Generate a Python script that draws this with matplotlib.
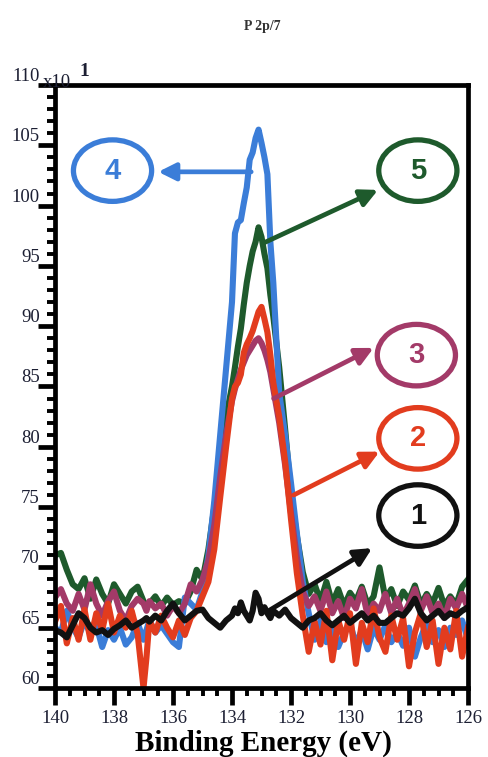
import numpy as np
import matplotlib
matplotlib.use('Agg')
import matplotlib.pyplot as plt
from matplotlib.patches import Ellipse
from matplotlib.ticker import MultipleLocator

# binding energy grid (eV) shared by all five spectra
energy = [140.0, 139.8, 139.6, 139.4, 139.2, 139.0, 138.8, 138.6, 138.4, 138.2,
          138.0, 137.8, 137.6, 137.4, 137.2, 137.0, 136.9, 136.8, 136.6, 136.4,
          136.2, 136.0, 135.8, 135.6, 135.4, 135.2, 135.0, 134.8, 134.6, 134.4,
          134.2, 134.0, 133.9, 133.8, 133.7, 133.6, 133.5, 133.4, 133.3, 133.2,
          133.1, 133.0, 132.9, 132.8, 132.7, 132.6, 132.4, 132.2, 132.0, 131.8,
          131.6, 131.4, 131.2, 131.0, 130.8, 130.6, 130.4, 130.2, 130.0, 129.8,
          129.6, 129.4, 129.2, 129.0, 128.8, 128.6, 128.4, 128.2, 128.0, 127.8,
          127.6, 127.4, 127.2, 127.0, 126.8, 126.6, 126.4, 126.2, 126.0]

# counts (x10^1)
s5_green = [71.0, 71.2, 69.8, 68.6, 68.2, 69.1, 67.4, 69.0, 67.8, 67.0,
            68.6, 67.8, 67.0, 68.0, 68.4, 67.2, 66.8, 67.0, 67.6, 66.8,
            67.5, 66.9, 67.2, 67.0, 68.0, 69.8, 69.0, 71.5, 75.0, 79.0,
            82.5, 85.0, 86.6, 88.3, 89.8, 91.8, 93.6, 95.0, 96.2, 97.0,
            98.2, 97.4, 96.0, 94.8, 92.6, 90.8, 86.6, 81.5, 76.0, 72.6,
            69.6, 67.8, 68.6, 67.2, 68.8, 67.0, 68.2, 66.8, 67.9, 67.2,
            68.4, 66.9, 67.6, 70.0, 67.4, 68.2, 66.8, 68.0, 67.3, 68.5,
            66.9, 67.8, 67.0, 68.3, 66.8, 67.6, 66.9, 68.4, 69.0]

s4_blue = [65.0, 64.6, 66.4, 65.0, 64.2, 65.6, 64.5, 65.2, 63.4, 64.8,
           64.0, 65.0, 63.6, 64.2, 65.4, 64.0, 64.8, 65.6, 64.6, 65.2,
           64.5, 63.8, 63.4, 67.5, 67.0, 66.5, 68.0, 71.0, 75.5, 81.0,
           86.5, 92.0, 97.7, 98.6, 98.8, 100.2, 101.5, 103.8, 104.4, 105.6,
           106.3, 105.2, 104.0, 102.6, 97.0, 93.6, 84.5, 81.0, 77.0, 72.8,
           68.8, 66.2, 64.0, 65.6, 63.8, 65.0, 63.4, 64.6, 65.4, 63.6,
           64.8, 63.2, 65.0, 64.0, 65.2, 63.8, 64.6, 63.5, 65.0, 62.6,
           64.2, 65.4, 63.8, 64.8, 63.4, 65.0, 64.4, 65.6, 64.0]

s3_maroon = [67.5, 68.2, 67.0, 66.4, 67.8, 66.5, 68.6, 67.0, 66.0, 67.2,
             68.0, 66.4, 65.6, 66.8, 67.4, 67.0, 66.4, 67.2, 66.6, 67.0,
             66.0, 66.8, 66.2, 67.0, 68.6, 68.0, 69.0, 70.6, 73.5, 77.5,
             81.0, 83.8, 84.8, 85.6, 86.4, 87.0, 87.6, 88.0, 88.4, 88.8,
             89.0, 88.6, 88.0, 87.2, 86.2, 84.8, 82.0, 78.5, 74.5, 70.8,
             68.0, 66.8, 67.6, 66.4, 68.0, 66.2, 67.2, 65.8, 67.4, 66.6,
             68.2, 66.0, 67.0, 66.4, 67.8, 66.2, 67.4, 66.0, 67.0, 68.2,
             66.4, 67.6, 66.2, 67.0, 65.8, 67.4, 66.6, 67.8, 66.6]

s2_red = [65.5, 66.8, 63.7, 65.8, 64.0, 66.5, 64.0, 66.2, 64.8, 67.0,
          64.6, 66.0, 65.0, 66.4, 64.5, 60.0, 62.5, 65.6, 64.6, 66.0,
          65.0, 64.2, 65.6, 64.4, 65.8, 66.4, 67.6, 68.8, 71.5, 75.8,
          80.0, 84.0, 85.0, 85.3, 86.0, 87.8, 88.5, 89.0, 89.6, 90.4,
          91.2, 91.6, 90.6, 89.5, 87.6, 85.3, 82.5, 78.8, 74.0, 69.5,
          66.0, 63.0, 65.5, 63.6, 66.4, 62.3, 65.6, 64.0, 66.2, 62.0,
          65.4, 63.8, 66.6, 64.2, 63.0, 66.0, 64.0, 65.8, 61.8, 64.6,
          66.2, 63.4, 65.6, 62.0, 65.0, 63.2, 66.4, 62.6, 65.0]

s1_black = [64.8, 64.6, 64.2, 65.2, 66.2, 65.8, 65.0, 64.6, 64.8, 64.4,
            64.9, 65.2, 65.6, 65.0, 65.3, 65.6, 65.8, 65.5, 66.0, 65.6,
            66.4, 67.0, 66.2, 65.6, 66.0, 66.4, 66.5, 65.8, 65.4, 65.0,
            65.6, 66.0, 66.6, 66.2, 67.1, 66.4, 66.0, 65.6, 66.4, 67.9,
            67.4, 66.2, 66.7, 66.2, 65.8, 66.4, 66.0, 66.5, 65.8, 65.4,
            65.0, 65.6, 65.8, 66.2, 65.6, 65.2, 65.6, 66.0, 65.4, 65.8,
            66.2, 65.6, 66.0, 65.4, 65.4, 65.8, 66.2, 66.0, 66.6, 67.4,
            66.2, 65.6, 66.0, 66.4, 65.8, 66.2, 66.0, 66.4, 66.7]

c_blue = '#3b7dd8'
c_green = '#1e5a2c'
c_maroon = '#a33a68'
c_red = '#e23c1e'
c_black = '#111111'
c_text = '#1c1f33'

W, H = 488, 757
fig = plt.figure(figsize=(W / 100, H / 100), dpi=100)
ax = fig.add_axes([55 / W, 1 - 688 / H, (468 - 55) / W, (688 - 85) / H])

lw = 4.4
ax.plot(energy, s5_green, color=c_green, lw=lw, solid_joinstyle='round')
ax.plot(energy, s4_blue, color=c_blue, lw=lw, solid_joinstyle='round')
ax.plot(energy, s3_maroon, color=c_maroon, lw=lw, solid_joinstyle='round')
ax.plot(energy, s2_red, color=c_red, lw=lw, solid_joinstyle='round')
ax.plot(energy, s1_black, color=c_black, lw=lw, solid_joinstyle='round')

ax.set_xlim(140, 126)
ax.set_ylim(60, 110)
ax.xaxis.set_major_locator(MultipleLocator(2))
ax.xaxis.set_minor_locator(MultipleLocator(0.5))
ax.yaxis.set_major_locator(MultipleLocator(5))
ax.yaxis.set_minor_locator(MultipleLocator(1))

for sp in ax.spines.values():
    sp.set_linewidth(3.4)
ax.tick_params(which='major', direction='out', length=12, width=3.4,
               labelsize=13.5, labelcolor=c_text)
ax.tick_params(which='minor', direction='out', length=6, width=2.8)
ax.tick_params(axis='x', which='major', pad=4)
ax.tick_params(axis='y', which='major', pad=-1)
for lab in ax.get_xticklabels() + ax.get_yticklabels():
    lab.set_family('Liberation Serif')
for lab in ax.get_yticklabels():
    lab.set_va('bottom')

# exponent next to the top y label
fig.text(43 / W, 1 - 87 / H, 'x10', family='Liberation Serif', fontsize=13.5,
         color=c_text, va='baseline')
fig.text(79 / W, 1 - 76 / H, '1', family='Liberation Serif', fontsize=14,
         weight='bold', color=c_text, va='baseline')

fig.text(262 / W, 1 - 30 / H, 'P 2p/7', family='Liberation Serif',
         fontsize=10, weight='bold', color='#333333', ha='center', va='baseline')
fig.text(263 / W, 1 - 751 / H, 'Binding Energy (eV)', family='Liberation Serif',
         fontsize=21, weight='bold', ha='center', va='baseline')

# numbered circles and arrows
labels = ['4', '5', '3', '2', '1']
label_colors = [c_blue, c_green, c_maroon, c_red, c_black]
circle_x = [138.05, 127.7, 127.75, 127.7, 127.7]
circle_y = [102.9, 102.9, 87.6, 80.7, 74.3]
arrow_tail = [(133.35, 102.8), (132.93, 96.9), (132.59, 84.0), (131.91, 76.0), (132.83, 66.3)]
arrow_head = [(136.5, 102.8), (129.05, 101.3), (129.2, 88.2), (129.0, 79.6), (129.25, 71.6)]

for lab, col, cx, cy, tail, head in zip(labels, label_colors, circle_x, circle_y,
                                         arrow_tail, arrow_head):
    ax.add_patch(Ellipse((cx, cy), 2.65, 5.1, fill=False, ec=col, lw=3.8,
                         clip_on=False, zorder=5))
    ax.text(cx, cy, lab, color=col, fontsize=21, weight='bold',
            family='Liberation Sans', ha='center', va='center', zorder=6)
    ax.annotate('', xy=head, xytext=tail,
                arrowprops=dict(arrowstyle='-|>', color=col, lw=3.4,
                                mutation_scale=26, shrinkA=0, shrinkB=0),
                zorder=6)

fig.savefig('out.png', dpi=100)
